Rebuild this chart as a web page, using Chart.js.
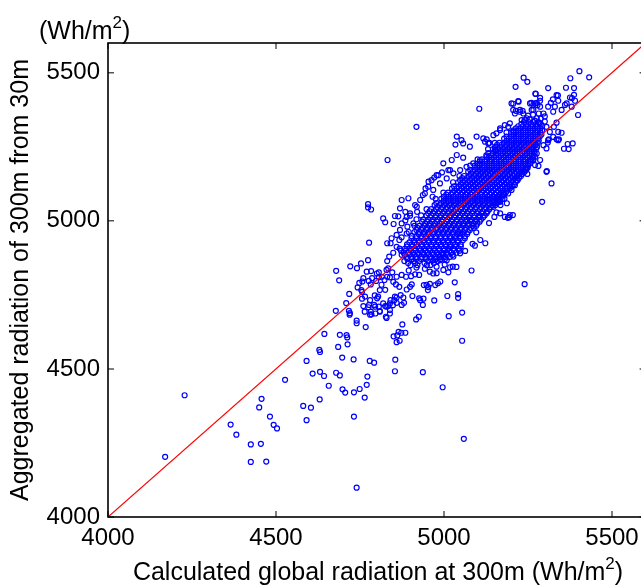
<!DOCTYPE html>
<html>
<head>
<meta charset="utf-8">
<script src="https://cdn.jsdelivr.net/npm/chart.js@4"></script>
<style>
  html, body { margin: 0; padding: 0; background: #fff; overflow: hidden; }
  #wrap { position: relative; width: 641px; height: 588px; overflow: hidden; }
  canvas { position: absolute; left: 0; top: 0; }
</style>
</head>
<body>
<div id="wrap"><canvas id="scatter" width="660" height="588"></canvas></div>
<script>
// ---- data ----
var xTicks = [4000, 4500, 5000, 5500];
var yTicks = [4000, 4500, 5000, 5500];
var lineEnds = [4000, 5600]; // 1:1 reference line

// sparse points below ~4650 (far tail)
var lowTail = [
  [4170,4203],[4228,4411],[4365,4312],[4382,4278],[4457,4399],[4450,4370],[4482,4339],[4493,4311],
  [4503,4299],[4425,4245],[4455,4247],[4425,4186],[4471,4187],[4527,4463],[4591,4527],[4609,4484],
  [4631,4490],[4643,4476],[4657,4443],[4581,4375],[4604,4369],[4591,4327],[4630,4397],[4629,4564],
  [4631,4557],[4644,4618],[4690,4615],[4710,4614],[4712,4606],[4685,4574],[4713,4583],[4697,4538],
  [4679,4487],[4690,4478],[4698,4431],[4706,4420],[4740,4099],[4732,4421],[4749,4432],[4764,4403],
  [4770,4446],[4772,4474],[4732,4339],[4731,4532],[4779,4527],[4792,4521],[4855,4531],[4854,4492],
  [4937,4489],[4996,4438],[5059,4264],[5054,4595]
];

// scattered points between ~4600 and ~5000
var midCloud = [
  [5054,4690],[5014,4678],[5042,4752],[5042,4740],[5010,4746],[4971,4731],[5032,4792],[4974,4783],
  [4982,4789],[4989,4795],[5013,4826],[5018,4843],[5026,4845],[5037,4844],[5063,4898],[5092,4916],
  [5085,4922],[5108,4935],[5123,4924],[5096,4961],[5240,4786],[5082,4832],
  [4777,4926],[4679,4831],[4688,4799],[4721,4846],[4741,4840],[4753,4856],[4774,4867],[4718,4753],
  [4709,4722],[4678,4696],[4717,4696],[4719,4683],[4740,4663],[4740,4654],[4767,4641],
  [4850,4610],[4861,4613],[4865,4625],[4873,4622],[4885,4622],[4876,4650],[4859,4590],[4868,4595],
  [4917,4667],[4925,4676],[4937,4716],[4939,4737],[4926,4738],[4906,4746],[4904,4785],[4948,4784],
  [4953,4776],[4806,4826],[4783,4830],[4770,4828],[4757,4795],[4748,4790],[4743,4775],[4754,4766],
  [4831,4924],[4841,4924],[4829,4672],[4839,4687],[4784,4684],[4764,4693],[4777,4716],[4760,4712],
  [4795,4710],[4809,4695],[4806,4710],[4825,4712],[4834,4712],[4848,4715],[4859,4723],[4874,4716],
  [4881,4723],[4929,4732],[4756,4737],[4775,4708],[4780,4683],[4796,4687],[4792,4716],[4794,4748],
  [4801,4738],[4809,4766],[4825,4767],[4814,4784],[4823,4800],[4831,4811],[4839,4809],[4846,4826],
  [4834,4839],[4831,4864],[4837,4879],[4798,4797],[4806,4809],[4786,4806],[4782,4785],[4839,4721],
  [4852,4732],[4859,4741],[4871,4749],[4879,4741],[4889,4768],[4899,4777],[4867,4777],[4857,4785],
  [4859,4811],[4874,4817],[4887,4811],[4902,4813],[4914,4819],[4926,4817],[4940,4783],[4952,4766],
  [4958,4787],[4849,4892],[4859,4912],[4867,4935],[4874,4944],[4889,4957],[4844,4941],[4859,4952],
  [4968,4867],[4988,4879],[5008,4867],[5028,4879],[5048,4890],[4998,4834],[4978,4823],[4958,4828],
  [4760,4806],[4776,4797],[4800,4822],[4815,4811],[4829,4834],[4849,4794],[4756,4760],[4765,4744],
  [4780,4732],[4804,4744],[4819,4721],[4829,4710],[4841,4732],[4854,4744],[4782,4693],[4809,4693],
  [4827,4676],[4839,4699],[4720,4688],
  [5057,4991],[5077,5002],[5048,4957],[5028,4935],[5018,4912],[4998,4890],[4988,4867],[4978,4845],
  [4968,4822],[4918,4842],[4943,4838],[4895,4832],[4960,4851],[5002,4852]
];

// scattered points above ~4950 around and past the dense band
var upperCloud = [
  [5134,4992],[5150,5013],[5156,5028],[5190,5010],[5194,5012],[5205,5019],[5168,5053],[5174,5073],
  [5161,5070],[5292,5064],[4774,5056],[4774,5045],[4783,5038],[4894,5076],[4937,5087],[4854,5016],
  [4864,5015],[4885,5030],[4885,5001],[4819,5008],[4825,4995],[4850,4989],[4918,5005],[4899,5017],
  [4869,5042],[4874,5070],[4914,5053],[4920,5030],[4909,4991],[4891,4980],[4869,4969],
  [4832,5205],[4918,5317],[5105,5378],[5034,5257],[5052,5272],[5057,5213],[5018,5171],[4994,5163],
  [4971,5146],[4978,5154],[4954,5132],[4945,5109],[4966,5081],
  [5320,5126],[5305,5165],[5350,5297],[5335,5275],[5340,5300],[5127,5275],[5135,5263],[5122,5267],
  [5156,5295],[5167,5312],[5181,5323],[5191,5317],[5211,5362],[5226,5374],[5236,5362],[5246,5346],
  [5231,5340],[5261,5374],[5271,5396],[5286,5385],[5296,5362],[5276,5346],[5284,5329],[5305,5317],
  [5315,5300],[5325,5283],[5340,5272],[5310,5272],[5296,5255],[5305,5244],[5276,5227],[5286,5205],
  [5266,5205],[5271,5188],[5246,5177],[5216,5137],[5196,5115],[5211,5120],[5176,5092],[5162,5070],
  [5187,5059],[5147,5047],[5127,5030],[5167,5025],[5107,5013],[5196,5019],[5181,5013],
  [5403,5505],[5432,5484],[5376,5481],[5237,5483],[5248,5469],[5213,5452],[5310,5448],[5363,5449],
  [5387,5448],[5387,5425],[5381,5414],[5272,5429],[5286,5415],[5222,5402],[5206,5395],[5339,5423],
  [5324,5410],[5318,5398],[5330,5385],[5260,5398],[5266,5392],[5276,5398],[5399,5357],[5214,5371],
  [5234,5371],[5375,5416],[5365,5396],[5390,5405],[5380,5385],[5360,5391],[5350,5374],[5368,5259],
  [5357,5243],[5371,5242],[5383,5261],[5342,5275],[5327,5317],[5335,5331],[5306,5168],[5309,5264],
  [5312,5275],[5281,5185],[5271,5216],
  [5038,5284],[5057,5261],[5077,5250],[5097,5284],[5117,5278],[5132,5261],[5147,5289],[5167,5306],
  [5196,5329],[5206,5300],[5152,5239],[5127,5216],[5107,5205],[5087,5194],[5067,5182],[5048,5171],
  [5028,5160],[5008,5143],[4988,5126],[4968,5104],[4998,5194],[5023,5205],[5038,5222],[5013,5171],
  [4983,5154],[4963,5137],[4953,5115],[4943,5092],[4929,5070],[4919,5047],[4899,5025],[4889,5013],
  [4874,4991],[5132,5070],[5147,5081],[5167,5064],[5176,5087],[5191,5092],[5201,5104],
  [5273,5428],[5286,5405],[5310,5385],[5325,5368],[5335,5424],[5340,5405],[5201,5396],[5221,5404],
  [5206,5374],[5226,5368],[5256,5396],[5266,5374],[5278,5390],
  [5240,5340],[5255,5342],[5270,5338],[5288,5345],[5300,5335],[5250,5355],[5265,5358],[5282,5362],
  [5300,5352]
];

// dense band: one y level per row, x positions along it
var coreRowY = [4850,4864,4878,4892,4906,4920,4934,4948,4962,4976,4990,5004,5018,5032,5046,5060,5074,
  5088,5102,5116,5130,5144,5158,5172,5186,5200,5214,5228,5242,5256,5270,5284,5298,5312,5326];
var coreRowX = [
  [4900,4921,4949],
  [4882,4910,4926,4953,4981],
  [4889,4904,4917,4933,4946,4960,4975,4988,5003,5017],
  [4880,4895,4909,4922,4938,4951,4966,4979,4994,5008,5022,5037],
  [4868,4884,4898,4913,4927,4941,4956,4970,4985,4999,5013,5028,5044],
  [4890,4905,4918,4934,4947,4962,4976,4991,5004,5019,5033,5050],
  [4911,4925,4940,4954,4968,4983,4997,5012,5026,5041,5056],
  [4904,4918,4933,4946,4961,4975,4990,5004,5018,5033,5047,5062],
  [4895,4912,4926,4941,4955,4969,4984,4998,5013,5027,5042,5056,5071],
  [4921,4936,4950,4964,4979,4993,5007,5022,5036,5051,5065,5080,5089],
  [4944,4958,4973,4987,5002,5016,5031,5045,5059,5074,5088,5099],
  [4938,4953,4967,4981,4996,5010,5025,5039,5053,5068,5082,5097,5110],
  [4932,4948,4962,4976,4991,5005,5019,5034,5048,5063,5077,5091,5106,5121],
  [4957,4971,4986,5000,5014,5029,5043,5058,5072,5086,5101,5115,5130],
  [4980,4995,5009,5024,5038,5052,5067,5081,5096,5110,5124,5139],
  [4977,4991,5006,5020,5034,5049,5063,5078,5092,5106,5121,5135,5150,5158],
  [4975,4992,5006,5020,5035,5049,5064,5078,5092,5107,5121,5136,5150,5164,5180],
  [5007,5021,5036,5050,5064,5079,5093,5108,5122,5136,5151,5165,5179],
  [5031,5046,5060,5075,5089,5103,5118,5132,5147,5161,5175,5188],
  [5030,5044,5059,5073,5087,5102,5116,5131,5145,5159,5174,5188,5202],
  [5027,5042,5056,5071,5085,5099,5114,5128,5143,5157,5171,5186,5200,5213],
  [5054,5068,5083,5097,5111,5126,5140,5155,5169,5183,5198,5212,5223],
  [5080,5095,5109,5123,5138,5152,5167,5181,5195,5210,5224,5233,5248],
  [5078,5092,5107,5121,5135,5150,5164,5179,5193,5207,5222,5236,5244],
  [5078,5092,5106,5120,5135,5149,5164,5178,5192,5207,5221,5236,5250],
  [5107,5121,5136,5150,5164,5179,5193,5208,5222,5236,5251,5259],
  [5134,5149,5163,5177,5192,5206,5221,5235,5249,5263],
  [5132,5146,5161,5175,5190,5204,5218,5233,5247,5261,5270],
  [5131,5146,5160,5175,5189,5203,5218,5232,5247,5261,5274],
  [5158,5172,5187,5201,5216,5230,5244,5259,5273],
  [5186,5201,5215,5229,5244,5258,5273,5282],
  [5186,5200,5215,5229,5243,5258,5272,5285],
  [5186,5200,5214,5229,5243,5257,5272,5287],
  [5214,5228,5242,5257,5271,5286],
  [5230,5244,5259,5273,5288]
];

// dense band, interleaved rows between the ones above
var coreRowY2 = [4857,4871,4885,4899,4913,4927,4941,4955,4969,4983,4997,5011,5025,5039,5053,5067,5081,
  5095,5109,5123,5137,5151,5165,5179,5193,5207,5221,5235,5249,5263,5277,5291,5305,5319,5333];
var coreRowX2 = [
  [4893,4914,4942,4970],
  [4891,4904,4918,4932,4946,4961,4974,4990,5003],
  [4874,4883,4897,4911,4925,4940,4953,4968,4982,4996,5010,5026],
  [4872,4887,4902,4915,4930,4945,4958,4973,4987,5001,5016,5030,5046],
  [4890,4905,4920,4934,4949,4963,4977,4992,5006,5020,5036,5050],
  [4897,4912,4926,4941,4955,4969,4984,4998,5012,5027,5041],
  [4903,4918,4932,4947,4961,4975,4990,5005,5019,5034,5048,5062],
  [4925,4940,4954,4968,4983,4997,5011,5026,5040,5055,5069],
  [4918,4933,4948,4962,4977,4991,5005,5020,5034,5049,5063,5077],
  [4912,4927,4942,4957,4971,4986,5000,5014,5029,5043,5058,5072,5086,5096],
  [4935,4950,4965,4979,4994,5008,5023,5037,5051,5066,5080,5094,5106],
  [4959,4974,4988,5002,5017,5031,5046,5060,5074,5089,5103,5116],
  [4953,4968,4983,4997,5012,5026,5040,5055,5069,5084,5098,5112,5127],
  [4948,4962,4977,4992,5006,5021,5035,5050,5064,5078,5093,5107,5121,5135],
  [4972,4987,5001,5016,5030,5045,5059,5073,5088,5102,5117,5131,5145,5153],
  [4999,5013,5028,5042,5056,5071,5085,5100,5114,5128,5143,5157,5166],
  [4999,5013,5028,5042,5057,5071,5085,5100,5114,5129,5143,5157,5172],
  [4998,5012,5026,5041,5055,5069,5084,5098,5113,5127,5141,5156,5170,5184],
  [5024,5038,5052,5067,5081,5096,5110,5124,5139,5153,5168,5182,5196],
  [5050,5065,5079,5093,5108,5122,5137,5151,5165,5180,5194,5208],
  [5048,5062,5077,5091,5105,5120,5134,5149,5163,5177,5192,5206,5219],
  [5046,5060,5074,5089,5103,5117,5132,5146,5161,5175,5189,5204,5218,5229],
  [5072,5086,5101,5115,5129,5144,5158,5173,5187,5201,5216,5230,5240],
  [5099,5114,5128,5142,5157,5171,5186,5200,5214,5229,5243,5249],
  [5099,5113,5128,5142,5156,5171,5185,5200,5214,5228,5243,5255],
  [5100,5113,5127,5142,5156,5170,5185,5199,5214,5228,5242,5257,5264],
  [5126,5140,5155,5169,5184,5198,5212,5227,5241,5255,5267],
  [5153,5168,5182,5196,5211,5225,5240,5254,5268],
  [5152,5166,5181,5195,5209,5224,5238,5253,5267,5277],
  [5151,5165,5179,5194,5208,5222,5237,5251,5266,5279],
  [5179,5193,5208,5222,5236,5251,5265,5280],
  [5207,5222,5236,5250,5265,5279,5290],
  [5207,5221,5236,5250,5264,5279,5292],
  [5221,5235,5250,5264,5278,5292],
  [5238,5252,5266,5281]
];

(function () {
  var FONT = '"Liberation Sans", Arial, Helvetica, sans-serif';

  function toPoints(pairs) {
    return pairs.map(function (p) { return { x: p[0], y: p[1] }; });
  }

  function rowPoints(ys, xsByRow) {
    var out = [];
    ys.forEach(function (y, i) {
      xsByRow[i].forEach(function (x) { out.push({ x: x, y: y }); });
    });
    return out;
  }

  var scatterData = toPoints(lowTail).concat(
    toPoints(midCloud),
    rowPoints(coreRowY, coreRowX),
    rowPoints(coreRowY2, coreRowX2),
    toPoints(upperCloud)
  );

  // text "<before>2<after>" with a real raised 2, like matlab's ^2
  function drawUnitText(ctx, before, after, x, y, align) {
    var big = "25px " + FONT, small = "17px " + FONT;
    ctx.font = big;
    var w1 = ctx.measureText(before).width;
    var w3 = ctx.measureText(after).width;
    ctx.font = small;
    var w2 = ctx.measureText("2").width;
    var x0 = align === "center" ? x - (w1 + w2 + w3) / 2 : x;
    ctx.textAlign = "left";
    ctx.textBaseline = "alphabetic";
    ctx.font = big;
    ctx.fillText(before, x0, y);
    ctx.font = small;
    ctx.fillText("2", x0 + w1, y - 11);
    ctx.font = big;
    ctx.fillText(after, x0 + w1 + w2, y);
  }

  // box round the plot + inward tick marks, matlab style
  var boxPlugin = {
    id: "boxTicks",
    afterDraw: function (chart) {
      var ctx = chart.ctx;
      var a = chart.chartArea;
      var xs = chart.scales.x, ys = chart.scales.y;
      ctx.save();
      ctx.strokeStyle = "#555";
      ctx.lineWidth = 1.5;
      ctx.beginPath();
      xTicks.forEach(function (v) {
        var px = xs.getPixelForValue(v);
        ctx.moveTo(px, a.bottom); ctx.lineTo(px, a.bottom - 6);
        ctx.moveTo(px, a.top); ctx.lineTo(px, a.top + 6);
      });
      yTicks.forEach(function (v) {
        var py = ys.getPixelForValue(v);
        ctx.moveTo(a.left, py); ctx.lineTo(a.left + 6, py);
        ctx.moveTo(a.right, py); ctx.lineTo(a.right - 6, py);
      });
      ctx.stroke();
      ctx.strokeStyle = "#000";
      ctx.lineWidth = 1.6;
      ctx.strokeRect(a.left, a.top, a.right - a.left, a.bottom - a.top);

      ctx.fillStyle = "#000";
      // unit at the top-left corner and the x axis title
      drawUnitText(ctx, "(Wh/m", ")", 39, 39, "left");
      drawUnitText(ctx, "Calculated global radiation at 300m (Wh/m", ")", 378, 580, "center");
      ctx.restore();
    }
  };

  function plainTick(v) { return String(v); }

  var ctx = document.getElementById("scatter").getContext("2d");
  new Chart(ctx, {
    type: "scatter",
    data: {
      datasets: [
        {
          label: "1:1",
          data: lineEnds.map(function (v) { return { x: v, y: v }; }),
          showLine: true,
          borderColor: "rgb(255,0,0)",
          borderWidth: 1.2,
          pointRadius: 0,
          order: 0
        },
        {
          label: "points",
          data: scatterData,
          pointStyle: "circle",
          pointRadius: 2.5,
          pointBorderWidth: 1.2,
          pointBorderColor: "rgb(0,0,255)",
          pointBackgroundColor: "rgba(0,0,0,0)",
          order: 1
        }
      ]
    },
    options: {
      responsive: false,
      animation: false,
      events: [],
      layout: { padding: { top: 43, right: 14.4, left: 0, bottom: 0 } },
      plugins: {
        legend: { display: false },
        tooltip: { enabled: false }
      },
      scales: {
        x: {
          type: "linear",
          min: 4000,
          max: 5600,
          afterFit: function (s) { s.height = 71; },
          afterBuildTicks: function (s) { s.ticks = xTicks.map(function (v) { return { value: v }; }); },
          grid: { display: false, drawTicks: false },
          border: { display: false },
          ticks: { color: "#000", padding: 7, maxRotation: 0, callback: plainTick, font: { family: FONT, size: 24 } },
          title: { display: false }
        },
        y: {
          type: "linear",
          min: 4000,
          max: 5600,
          afterFit: function (s) { s.width = 108; },
          afterBuildTicks: function (s) { s.ticks = yTicks.map(function (v) { return { value: v }; }); },
          grid: { display: false, drawTicks: false },
          border: { display: false },
          ticks: { color: "#000", padding: 8, callback: plainTick, font: { family: FONT, size: 24 } },
          title: {
            display: true,
            text: "Aggregated radiation of 300m from 30m",
            color: "#000",
            padding: { top: 6, bottom: 0 },
            font: { family: FONT, size: 25 }
          }
        }
      }
    },
    plugins: [boxPlugin]
  });
})();
</script>
</body>
</html>
